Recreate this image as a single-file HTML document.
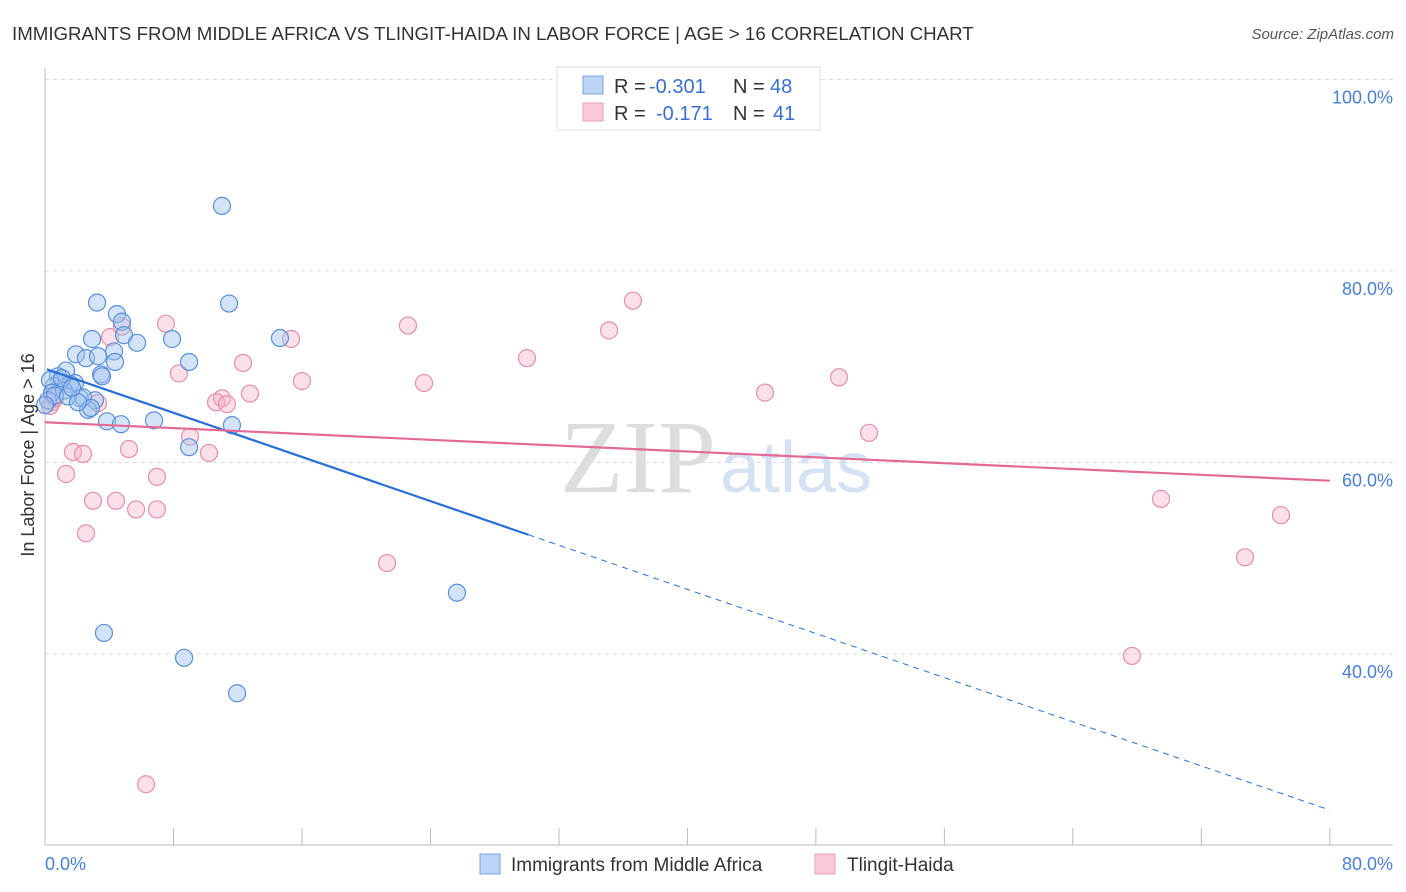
<!DOCTYPE html>
<html><head><meta charset="utf-8"><style>
body{margin:0;background:#fff;font-family:"Liberation Sans",sans-serif}
</style></head><body>
<svg width="1406" height="892" style="display:block">
<text x="12" y="40" font-size="18.7" fill="#333">IMMIGRANTS FROM MIDDLE AFRICA VS TLINGIT-HAIDA IN LABOR FORCE | AGE &gt; 16 CORRELATION CHART</text>
<text x="1394" y="39" font-size="15" fill="#555" font-style="italic" text-anchor="end">Source: ZipAtlas.com</text>
<g id="grid"></g>
<text x="716" y="492" font-size="104" font-family="Liberation Serif,serif" fill="#ddd" text-anchor="end">ZIP</text>
<text x="720" y="492" font-size="72" fill="#d4e2f4">atlas</text>
<line x1="45" y1="68" x2="45" y2="845" stroke="#bbb"/>
<line x1="45" y1="845" x2="1393" y2="845" stroke="#bbb"/>
<g id="marks"></g>
<text x="34" y="455" font-size="18" fill="#333" text-anchor="middle" transform="rotate(-90 34 455)">In Labor Force | Age &gt; 16</text>
<text x="45" y="870" font-size="18" fill="#4a7fd4">0.0%</text>
<text x="1393" y="870" font-size="18" fill="#4a7fd4" text-anchor="end">80.0%</text>
<g>
<rect x="557" y="67" width="263" height="63" fill="#fff" stroke="#ddd"/>
<rect x="583" y="76" width="20" height="18" fill="#bcd4f6" stroke="#7aa5e0"/>
<rect x="583" y="103" width="20" height="18" fill="#f9c9d7" stroke="#eaa0b8"/>
<text y="93" font-size="20" fill="#333"><tspan x="614">R =</tspan><tspan x="649" fill="#3a6fd0">-0.301</tspan><tspan x="733">N =</tspan><tspan x="770" fill="#3a6fd0">48</tspan></text>
<text y="120" font-size="20" fill="#333"><tspan x="614">R =</tspan><tspan x="656" fill="#3a6fd0">-0.171</tspan><tspan x="733">N =</tspan><tspan x="773" fill="#3a6fd0">41</tspan></text>
</g>
<g>
<rect x="480" y="854" width="20" height="20" fill="#bcd4f6" stroke="#7aa5e0"/>
<text x="511" y="871" font-size="19" fill="#333">Immigrants from Middle Africa</text>
<rect x="815" y="854" width="20" height="20" fill="#f9c9d7" stroke="#eaa0b8"/>
<text x="847" y="871" font-size="19" fill="#333">Tlingit-Haida</text>
</g>
</svg>
<script>
const yTicks=[100,80,60,40];
const yTickLabels=["100.0%","80.0%","60.0%","40.0%"];
const xTicks=[0,8,16,24,32,40,48,56,64,72,80];
const blueX=[11.02,3.24,11.46,4.48,4.79,4.92,2.93,5.73,7.91,14.63,1.93,2.55,3.30,4.30,4.36,8.97,1.31,3.49,3.55,0.81,0.93,1.56,0.56,0.31,1.87,0.44,1.18,2.18,3.11,2.68,3.86,4.73,6.79,11.64,8.97,25.65,3.67,8.66,11.96,0.19,0.62,2.37,1.43,2.86,2.05,1.06,1.68,0.0];
const blueY=[86.8,76.7,76.6,75.5,74.7,73.3,72.9,72.5,72.9,73.0,71.3,70.9,71.1,71.6,70.5,70.5,69.6,69.2,69.0,69.0,68.4,68.2,68.0,68.6,68.3,67.3,67.5,66.7,66.5,65.5,64.3,64.0,64.4,63.9,61.6,46.4,42.2,39.6,35.9,66.5,67.0,66.8,66.9,65.7,66.3,68.8,67.8,66.0];
const pinkX=[7.53,4.79,4.05,15.32,22.60,36.61,35.12,30.01,12.33,8.34,16.00,23.60,12.76,11.02,10.65,11.33,3.30,44.83,49.44,51.31,9.03,10.21,1.74,2.37,5.23,1.31,6.97,2.99,4.42,5.67,6.97,2.55,21.30,69.49,76.96,74.72,67.68,6.29,0.44,0.31,0.62];
const pinkY=[74.5,74.2,73.1,72.9,74.3,76.9,73.8,70.9,70.4,69.3,68.5,68.3,67.2,66.7,66.3,66.1,66.2,67.3,68.9,63.1,62.7,61.0,61.1,60.9,61.4,58.8,58.5,56.0,56.0,55.1,55.1,52.6,49.5,56.2,54.5,50.1,39.8,26.4,66.3,65.9,66.7];
const blueTrend=[69.8,23.7];
const blueSolidEnd=30.1;
const pinkTrend=[64.2,58.1];
const NS="http://www.w3.org/2000/svg";
const sx=v=>45+v*16.06;
const sy=v=>271+(80-v)*9.575;
function mk(t,a,p){const e=document.createElementNS(NS,t);for(const k in a)e.setAttribute(k,a[k]);p.appendChild(e);return e;}
const grid=document.getElementById('grid'),marks=document.getElementById('marks');
yTicks.forEach((t,i)=>{
 const l=mk('line',{x1:45,x2:1393,y1:sy(t),y2:sy(t),stroke:'#ddd','stroke-dasharray':'4,4'},grid);
 
 
 const tx=mk('text',{x:1393,y:sy(t)+24,'font-size':18,fill:'#4a7fd4','text-anchor':'end'},grid);
 tx.textContent=yTickLabels[i];
 
 
});
xTicks.forEach(t=>{
 const l=mk('line',{x1:sx(t),x2:sx(t),y1:828,y2:845,stroke:'#bbb'},grid);
 
 
});
function pts(X,Y,fill,stroke,name){X.forEach((x,i)=>{
 const c=mk('circle',{cx:sx(x),cy:sy(Y[i]),r:8.5,fill:fill,stroke:stroke,'stroke-width':1.2},marks);
 
 
});}
pts(pinkX,pinkY,'rgba(246,178,200,0.4)','#e48fab','tlingit-haida-point');
pts(blueX,blueY,'rgba(160,196,240,0.45)','#5b8fd9','middle-africa-point');
const by=x=>blueTrend[0]+(blueTrend[1]-blueTrend[0])*x/80;
let l=mk('line',{x1:sx(0.12),y1:sy(by(0.12)),x2:sx(blueSolidEnd),y2:sy(by(blueSolidEnd)),stroke:'#2a6fd6','stroke-width':2.2},marks);


l=mk('line',{x1:sx(blueSolidEnd),y1:sy(by(blueSolidEnd)),x2:sx(80),y2:sy(by(80)),stroke:'#2a6fd6','stroke-width':1,'stroke-dasharray':'6,5'},marks);


l=mk('line',{x1:sx(0),y1:sy(pinkTrend[0]),x2:sx(80),y2:sy(pinkTrend[1]),stroke:'#e36a94','stroke-width':2.2},marks);


</script>
</body></html>
